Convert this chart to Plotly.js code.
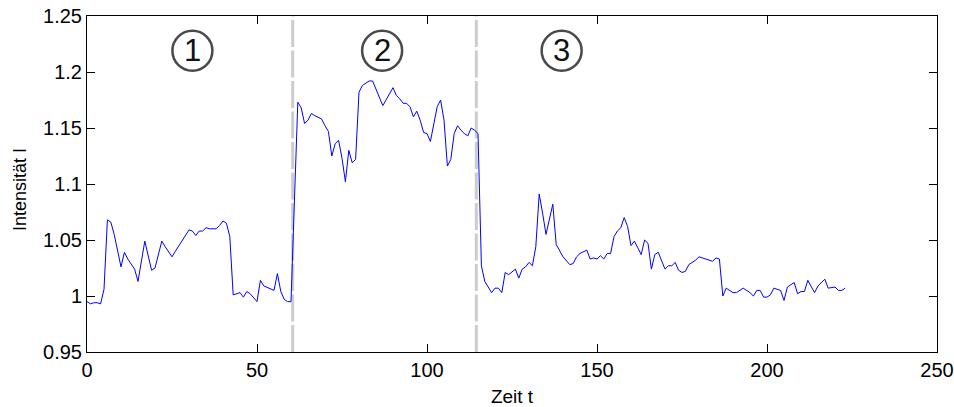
<!DOCTYPE html>
<html>
<head>
<meta charset="utf-8">
<script src="https://cdn.plot.ly/plotly-3.0.1.min.js"></script>
<style>html,body{margin:0;padding:0;background:#fff;}#chart{width:954px;height:407px;}</style>
</head>
<body>
<div id="chart"></div>
<script>
// Time values (Zeit t)
const timeT = [0,1,2,3,4,5,6,7,8,10,11,12,14,15,17,18,19,20,22,23,25,26,30,31,32,33,34,35,36,38,39,40,41,42,43,45,46,47,48,50,51,52,54,55,56,57,58,59,60,61,
  62,63,64,65,66,67,69,70,71,72,73,74,75,76,77,78,79,80,81,83,84,87,89,90,91,92,93,94,95,96,97,98,99,100,101,103,104,105,106,107,108,109,110,111,112,113,114,115,
  116,117,119,120,121,122,123,124,126,127,128,129,130,131,132,133,134,135,137,138,140,142,143,144,145,147,148,149,150,151,152,153,154,155,156,157,158,159,160,161,162,163,164,165,166,167,168,
  170,171,172,173,174,175,176,177,178,179,180,182,184,185,186,187,188,190,191,193,195,196,197,198,199,200,201,202,203,204,205,206,208,209,210,211,212,213,214,215,217,218,220,221,222,223];
// Intensity values (Intensität I)
const intensity = [0.995,0.993,0.994,0.994,0.993,1.006,1.068,1.066,1.055,1.026,1.039,1.033,1.024,1.013,1.049,1.035,1.023,1.025,1.049,1.044,1.035,1.040,1.059,1.058,1.054,1.058,1.058,1.061,1.060,1.060,1.063,1.067,1.065,1.053,1.001,1.003,0.999,1.004,1.002,0.995,1.014,1.009,1.006,1.005,1.020,1.004,0.997,0.995,0.995,1.076,
  1.173,1.168,1.154,1.157,1.163,1.161,1.158,1.152,1.147,1.125,1.136,1.139,1.123,1.102,1.130,1.119,1.122,1.182,1.188,1.192,1.192,1.170,1.180,1.186,1.179,1.176,1.172,1.172,1.169,1.160,1.165,1.157,1.146,1.145,1.138,1.169,1.175,1.157,1.116,1.122,1.145,1.152,1.148,1.145,1.143,1.150,1.148,1.145,
  1.027,1.013,1.003,1.007,1.007,1.003,1.021,1.019,1.024,1.016,1.024,1.026,1.030,1.027,1.044,1.091,1.074,1.055,1.082,1.046,1.035,1.028,1.029,1.035,1.038,1.041,1.033,1.034,1.033,1.036,1.033,1.038,1.038,1.053,1.058,1.061,1.070,1.062,1.045,1.049,1.043,1.037,1.050,1.047,1.024,1.037,1.039,
  1.024,1.027,1.027,1.030,1.023,1.021,1.022,1.028,1.030,1.032,1.035,1.033,1.031,1.034,1.033,1.000,1.007,1.003,1.003,1.007,1.003,1.000,1.005,1.005,0.999,0.999,1.001,1.007,1.006,1.005,0.996,1.008,1.012,1.002,1.004,1.004,1.014,1.009,1.003,1.009,1.015,1.007,1.008,1.005,1.005,1.007];

// Phase boundaries and labels
const boundaries = [60.5, 114.5];
const phaseLabels = ['1','2','3'];
const phaseLabelX = [31.0, 86.8, 139.6];
const phaseLabelY = 1.219;

// Tick labels
const xTicks = [0,50,100,150,200,250];
const yTicks = [0.95,1.0,1.05,1.1,1.15,1.2,1.25];
const yTickText = ['0.95','1','1.05','1.1','1.15','1.2','1.25'];
const xTitle = 'Zeit t';
const yTitle = 'Intensität I';

const FONT = 'Liberation Sans, Arial, Helvetica, sans-serif';

const shapes = boundaries.map(b => ({
  type:'line', xref:'x', yref:'paper', x0:b, x1:b, y0:0, y1:1, layer:'below',
  line:{color:'#cccccc', width:3, dash:'27px,3.5px'}
}));
phaseLabelX.forEach(x => shapes.push({
  type:'circle', xref:'x', yref:'y', xsizemode:'pixel', ysizemode:'pixel',
  xanchor:x, yanchor:phaseLabelY, x0:-20, x1:20, y0:-20, y1:20,
  line:{color:'#4a4a4a', width:2.5}, fillcolor:'rgba(0,0,0,0)'
}));
const annotations = phaseLabels.map((t,i) => ({
  x:phaseLabelX[i], y:phaseLabelY, xref:'x', yref:'y', text:t, showarrow:false,
  font:{family:FONT, size:31, color:'#111111'}, xanchor:'center', yanchor:'middle'
}));
// y-axis title, placed slightly below the axis centre as in the original
annotations.push({
  xref:'paper', yref:'paper', x:-0.0788, y:0.482, text:yTitle, textangle:-90,
  showarrow:false, xanchor:'center', yanchor:'middle',
  font:{family:FONT, size:18, color:'#000'}
});

const trace = {
  x: timeT, y: intensity, type:'scatter', mode:'lines',
  line:{color:'#0000ff', width:1}, hoverinfo:'x+y'
};

const layout = {
  width:954, height:407,
  margin:{l:87, r:17, t:16, b:55},
  paper_bgcolor:'#ffffff', plot_bgcolor:'#ffffff',
  showlegend:false,
  font:{family:FONT, color:'#000000'},
  xaxis:{
    range:[0,250], tickvals:xTicks, ticks:'inside', ticklen:8, tickcolor:'#000',
    showline:true, linecolor:'#000', linewidth:1, mirror:'ticks',
    showgrid:false, zeroline:false, tickfont:{size:20, family:FONT},
    title:{text:xTitle, font:{size:19, family:FONT}, standoff:9}
  },
  yaxis:{
    range:[0.95,1.25], tickvals:yTicks, ticktext:yTickText, ticks:'inside', ticklen:8, tickcolor:'#000',
    showline:true, linecolor:'#000', linewidth:1, mirror:'ticks',
    showgrid:false, zeroline:false, tickfont:{size:20, family:FONT}
  },
  shapes: shapes,
  annotations: annotations
};

Plotly.newPlot('chart', [trace], layout, {staticPlot:true, displayModeBar:false});
</script>
</body>
</html>
